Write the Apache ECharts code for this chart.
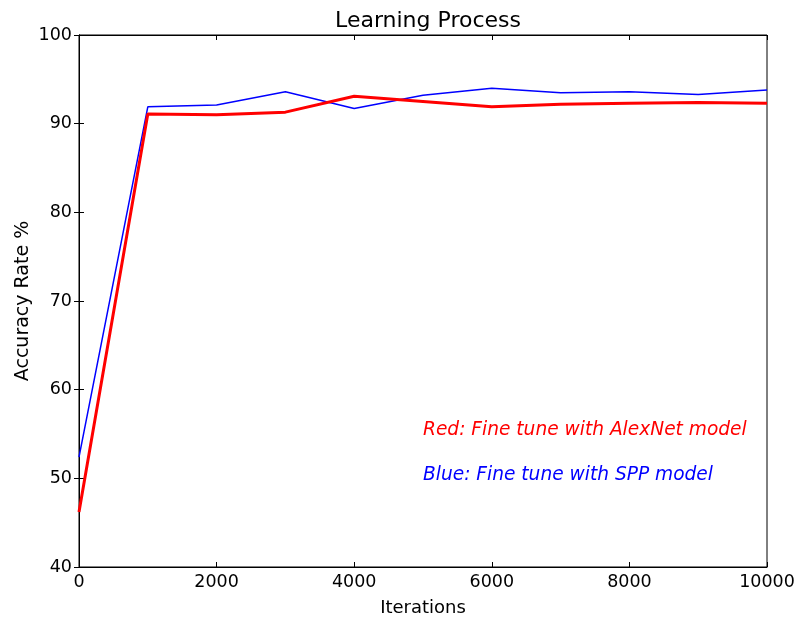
<!DOCTYPE html>
<html>
<head>
<meta charset="utf-8">
<script src="https://cdn.jsdelivr.net/npm/echarts@6/dist/echarts.min.js"></script>
<style>
  html, body { margin: 0; padding: 0; background: #fff; }
  #chart { width: 797px; height: 618px; }
</style>
</head>
<body>
<div id="chart"></div>
<script>
// Iteration checkpoints and accuracy (%) of the two fine-tuned models
const iterations = [0, 1000, 2000, 3000, 4000, 5000, 6000, 7000, 8000, 9000, 10000];
const alexNetAcc = [46.2, 91.1, 91.0, 91.3, 93.1, 92.5, 91.9, 92.2, 92.3, 92.4, 92.3];
const sppAcc     = [52.4, 91.9, 92.1, 93.6, 91.7, 93.2, 94.0, 93.5, 93.6, 93.3, 93.8];

// Annotation text, anchored (left, baseline) in data coordinates
const notes = [
  { text: 'Red: Fine tune with AlexNet model', x: 5000, y: 55, color: '#ff0000' },
  { text: 'Blue: Fine tune with SPP model', x: 5000, y: 50, color: '#0000ff' }
];

const FONT = 'DejaVu Sans';
const TICK_FS = 17.5;
const NAME_FS = 18;
const NOTE_FS = 18.6;

const chart = echarts.init(document.getElementById('chart'), null, { renderer: 'canvas' });

const pairs = (xs, ys) => xs.map((x, i) => [x, ys[i]]);

const tickStyle = { show: true, inside: true, length: 5, lineStyle: { color: '#000', width: 1 } };
const lineStyle = { show: true, lineStyle: { color: '#000', width: 1 } };

chart.setOption({
  animation: false,
  backgroundColor: '#ffffff',
  textStyle: { fontFamily: FONT },
  title: {
    text: 'Learning Process',
    left: 423, top: 5,
    textAlign: 'center',
    textStyle: { fontFamily: FONT, fontSize: 22, fontWeight: 'normal', color: '#000' }
  },
  grid: {
    left: 79, right: 30, top: 35, bottom: 51,
    containLabel: false, outerBoundsMode: 'none',
    show: true, borderColor: '#000', borderWidth: 1
  },
  xAxis: [
    {
      type: 'value', min: 0, max: 10000, interval: 2000, position: 'bottom',
      name: 'Iterations', nameLocation: 'middle', nameGap: 32, nameMoveOverlap: false,
      nameTextStyle: { fontFamily: FONT, fontSize: NAME_FS, color: '#000' },
      axisLine: lineStyle, axisTick: tickStyle, splitLine: { show: false },
      axisLabel: {
        fontFamily: FONT, fontSize: TICK_FS, color: '#000', margin: 6,
        formatter: v => String(v)
      }
    },
    {
      type: 'value', min: 0, max: 10000, interval: 2000, position: 'top',
      axisLine: lineStyle, axisTick: tickStyle, splitLine: { show: false },
      axisLabel: { show: false }
    }
  ],
  yAxis: [
    {
      type: 'value', min: 40, max: 100, interval: 10, position: 'left',
      name: 'Accuracy Rate %', nameLocation: 'middle', nameGap: 46, nameRotate: 90,
      nameMoveOverlap: false,
      nameTextStyle: { fontFamily: FONT, fontSize: 19, color: '#000' },
      axisLine: lineStyle, axisTick: tickStyle, splitLine: { show: false },
      axisLabel: { fontFamily: FONT, fontSize: TICK_FS, color: '#000', margin: 7 }
    },
    {
      type: 'value', min: 40, max: 100, interval: 10, position: 'right',
      axisLine: lineStyle, axisTick: tickStyle, splitLine: { show: false },
      axisLabel: { show: false }
    }
  ],
  series: [
    {
      name: 'SPP', type: 'line', xAxisIndex: 0, yAxisIndex: 0,
      data: pairs(iterations, sppAcc),
      showSymbol: false, symbol: 'none',
      lineStyle: { color: '#0000ff', width: 1.5 }, z: 3
    },
    {
      name: 'AlexNet', type: 'line', xAxisIndex: 0, yAxisIndex: 0,
      data: pairs(iterations, alexNetAcc),
      showSymbol: false, symbol: 'none',
      lineStyle: { color: '#ff0000', width: 3 }, z: 4
    }
  ]
});

// Place the annotations so their baseline sits on the data position
chart.setOption({
  graphic: notes.map(n => {
    const p = chart.convertToPixel({ xAxisIndex: 0, yAxisIndex: 0 }, [n.x, n.y]);
    return {
      type: 'text', x: p[0], y: p[1] + NOTE_FS * 0.33,
      style: {
        text: n.text, fill: n.color,
        font: 'italic ' + NOTE_FS + 'px "' + FONT + '"',
        textAlign: 'left', textVerticalAlign: 'bottom'
      }
    };
  })
});
</script>
</body>
</html>
